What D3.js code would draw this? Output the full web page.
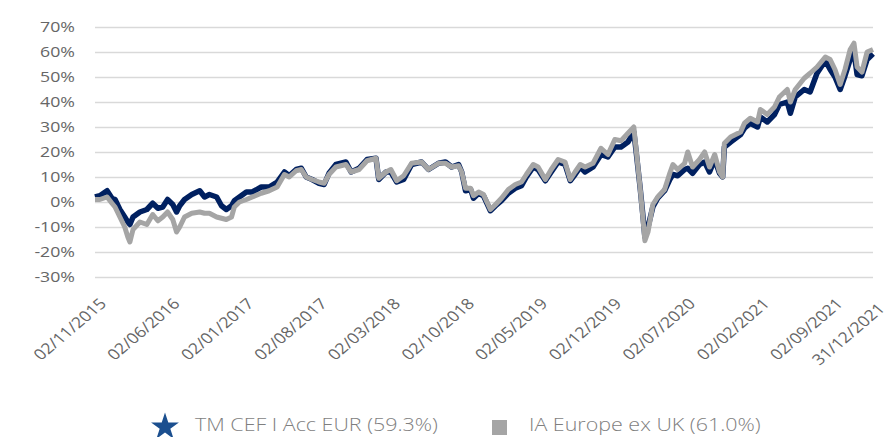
<!DOCTYPE html>
<html>
<head>
<meta charset="utf-8">
<script src="https://cdn.jsdelivr.net/npm/d3@7"></script>
<style>
  body { margin: 0; background: #fff; }
  svg { display: block; font-family: "Open Sans", sans-serif; }
</style>
</head>
<body>
<div class="canvas"></div>
<script>
// sample dates
const dates = [
  '2015-11-02','2015-11-16','2015-12-07','2015-12-21','2015-12-30','2016-01-13','2016-01-27','2016-02-05',
  '2016-02-11','2016-02-20','2016-03-11','2016-03-31','2016-04-17','2016-05-02','2016-05-16','2016-05-30',
  '2016-06-14','2016-06-25','2016-07-04','2016-07-18','2016-08-08','2016-08-31','2016-09-14','2016-09-28',
  '2016-10-19','2016-11-02','2016-11-16','2016-12-01','2016-12-09','2016-12-24','2017-01-13','2017-01-30',
  '2017-02-25','2017-03-20','2017-04-12','2017-05-03','2017-05-17','2017-06-06','2017-06-21','2017-07-05',
  '2017-07-22','2017-08-11','2017-08-26','2017-09-09','2017-09-29','2017-10-28','2017-11-12','2017-12-05',
  '2017-12-28','2018-01-23','2018-01-31','2018-02-21','2018-03-07','2018-03-24','2018-04-13','2018-05-06',
  '2018-06-04','2018-06-24','2018-07-23','2018-08-12','2018-08-30','2018-09-19','2018-09-28','2018-10-09',
  '2018-10-24','2018-11-01','2018-11-16','2018-11-30','2018-12-20','2019-01-04','2019-01-21','2019-02-10',
  '2019-03-02','2019-03-20','2019-04-03','2019-04-23','2019-05-07','2019-05-28','2019-06-14','2019-07-04',
  '2019-07-24','2019-08-08','2019-08-22','2019-09-06','2019-09-20','2019-10-13','2019-11-05','2019-11-25',
  '2019-12-15','2020-01-02','2020-01-22','2020-02-08','2020-02-14','2020-02-26','2020-03-05','2020-03-11',
  '2020-03-20','2020-04-03','2020-04-17','2020-05-07','2020-05-22','2020-05-31','2020-06-14','2020-07-04',
  '2020-07-13','2020-07-27','2020-08-16','2020-08-31','2020-09-14','2020-09-29','2020-10-13','2020-10-22',
  '2020-10-27','2020-11-14','2020-12-13','2020-12-24','2021-01-10','2021-01-31','2021-02-08','2021-02-28',
  '2021-03-21','2021-04-04','2021-04-27','2021-05-06','2021-05-20','2021-06-15','2021-07-02','2021-07-22',
  '2021-08-15','2021-08-29','2021-09-12','2021-09-27','2021-10-11','2021-10-26','2021-11-06','2021-11-15',
  '2021-11-29','2021-12-14','2021-12-31'
];

// TM CEF I Acc EUR, cumulative %
const fundValues = [
  2, 2.5, 4.5, 1.5, 1, -3, -6, -8, -9, -6, -4, -3, -0.5, -2.5, -2, 1,
  -1, -4, -1.5, 1, 3, 4.5, 2, 3, 2, -1.5, -3, -1.5, 0.5, 2, 4, 4,
  6, 6, 8, 12, 10.5, 13, 13.5, 10, 9, 7.5, 7, 11.5, 15, 16, 12, 13.5,
  17, 17.5, 9, 12, 12, 8, 9, 15, 16, 13, 15.5, 16, 14, 15, 12, 4.5,
  5, 1.5, 3.5, 2.5, -3.5, -1.5, 0.5, 3.5, 5.5, 6.5, 10, 14, 13, 8.5, 12, 16,
  15, 8.5, 11, 14, 12, 14, 19, 18, 22, 22, 24, 28, 21, 6, -5, -14,
  -10, -2, 1.5, 4.5, 9, 11, 10.5, 13, 13.5, 11.5, 15, 16, 12, 17, 11.5, 10,
  22, 24, 27, 29.5, 31.5, 30, 34, 32, 35, 39, 40, 35.5, 42, 45, 44, 51.5,
  56.5, 53, 50, 45, 50.5, 57, 60, 51, 50.5, 57, 59.3
];

// IA Europe ex UK, cumulative %
const sectorValues = [
  1, 1, 2, -0.5, -2, -6, -10, -14, -16, -11, -8, -9, -5, -7.5, -6, -4,
  -7, -12, -10, -6, -4.5, -4, -4.5, -4.5, -6, -6.5, -7, -6, -2, 0, 1, 2,
  3.5, 4.5, 6, 11, 10, 12.5, 13, 10, 9, 8, 7.5, 11, 14, 15, 12, 13,
  16.5, 17.5, 9.5, 12, 13, 8.5, 10.5, 15.5, 16, 13, 15.5, 15.5, 14, 14.5, 12, 5.5,
  5.5, 2.5, 4, 3, -3, -1, 1.5, 5, 7, 8, 11, 15, 14, 9, 13, 17,
  16, 9, 12, 15, 14, 15.5, 21.5, 19, 25, 24.5, 27.5, 30, 22, 6, -6, -15.5,
  -12, -1, 2, 5, 11.5, 15, 13, 15.5, 20, 14, 17, 20, 14, 19, 12, 10,
  23.5, 26, 28, 31.5, 33.5, 32, 37, 35, 38, 42, 45, 40, 45, 49.5, 51.5, 54,
  58, 57, 53, 47, 53, 61, 63.5, 54, 52, 60, 61
];

const tickLabels = ['02/11/2015','02/06/2016','02/01/2017','02/08/2017','02/03/2018','02/10/2018',
  '02/05/2019','02/12/2019','02/07/2020','02/02/2021','02/09/2021','31/12/2021'];

const yTicks = [-30, -20, -10, 0, 10, 20, 30, 40, 50, 60, 70];

const seriesNames = ['TM CEF I Acc EUR (59.3%)', 'IA Europe ex UK (61.0%)'];

const dims = { width: 890, height: 437 };
const plot = { left: 95, right: 873, top: 27, bottom: 277 };
const stretch = 1.18; // the original picture is a bit wider than tall

const parseIso = d3.timeParse('%Y-%m-%d');
const parseLabel = d3.timeParse('%d/%m/%Y');

const rows = dates.map((d, i) => ({ date: parseIso(d), fund: fundValues[i], sector: sectorValues[i] }));

const svg = d3.select('.canvas')
  .append('svg')
  .attr('width', dims.width)
  .attr('height', dims.height);

const x = d3.scaleTime()
  .domain([parseLabel(tickLabels[0]), parseLabel(tickLabels[tickLabels.length - 1])])
  .range([plot.left, plot.right]);

const y = d3.scaleLinear()
  .domain([-30, 70])
  .range([plot.bottom, plot.top]);

// gridlines + y labels
const yAxis = d3.axisLeft(y)
  .tickValues(yTicks)
  .tickSize(-(plot.right - plot.left))
  .tickPadding(17)
  .tickFormat(d => d + '%');

svg.append('g')
  .attr('transform', `translate(${plot.left}, 0)`)
  .call(yAxis)
  .call(g => g.select('.domain').remove())
  .call(g => g.selectAll('line').attr('stroke', '#d9d9d9').attr('stroke-width', 1.5))
  .call(g => g.selectAll('text')
    .attr('fill', '#666')
    .attr('font-size', 15)
    .attr('font-family', '"Open Sans", sans-serif')
    .attr('transform', `scale(${stretch}, 1)`));

// x labels, rotated
const xAxis = d3.axisBottom(x)
  .tickValues(tickLabels.map(parseLabel))
  .tickSize(0)
  .tickFormat(d3.timeFormat('%d/%m/%Y'));

svg.append('g')
  .attr('transform', 'translate(0, 301)')
  .call(xAxis)
  .call(g => g.select('.domain').remove())
  .call(g => g.selectAll('text')
    .attr('fill', '#666')
    .attr('font-size', 15)
    .attr('font-family', '"Open Sans", sans-serif')
    .attr('text-anchor', 'end')
    .attr('x', 0)
    .attr('y', 0)
    .attr('dy', '0.35em')
    .attr('transform', (d, i) => i === tickLabels.length - 1
      ? `translate(8, 5) scale(${stretch}, 1) rotate(-45)`
      : `translate(7.5, 0) scale(${stretch}, 1) rotate(-45)`));

// lines
const lineFund = d3.line().x(d => x(d.date)).y(d => y(d.fund));
const lineSector = d3.line().x(d => x(d.date)).y(d => y(d.sector));

svg.append('path')
  .datum(rows)
  .attr('fill', 'none')
  .attr('stroke', '#002060')
  .attr('stroke-width', 5.5)
  .attr('stroke-linejoin', 'round')
  .attr('d', lineFund);

svg.append('path')
  .datum(rows)
  .attr('fill', 'none')
  .attr('stroke', '#a5a5a5')
  .attr('stroke-width', 5)
  .attr('stroke-linejoin', 'round')
  .attr('d', lineSector);

// legend
const legend = svg.append('g').attr('transform', 'translate(0, 426)');

legend.append('path')
  .attr('d', d3.symbol(d3.symbolStar, 240)())
  .attr('transform', 'translate(165, 1)')
  .attr('fill', '#1b4f8f');

legend.append('text')
  .attr('transform', `translate(195, 5) scale(${stretch - 0.02}, 1)`)
  .attr('font-size', 18.5)
  .attr('font-weight', 300)
  .attr('fill', '#7f7f7f')
  .text(seriesNames[0]);

legend.append('rect')
  .attr('x', 492)
  .attr('y', -6)
  .attr('width', 15)
  .attr('height', 15)
  .attr('fill', '#a5a5a5');

legend.append('text')
  .attr('transform', `translate(529, 5) scale(${stretch - 0.02}, 1)`)
  .attr('font-size', 18.5)
  .attr('font-weight', 300)
  .attr('fill', '#7f7f7f')
  .text(seriesNames[1]);
</script>
</body>
</html>
